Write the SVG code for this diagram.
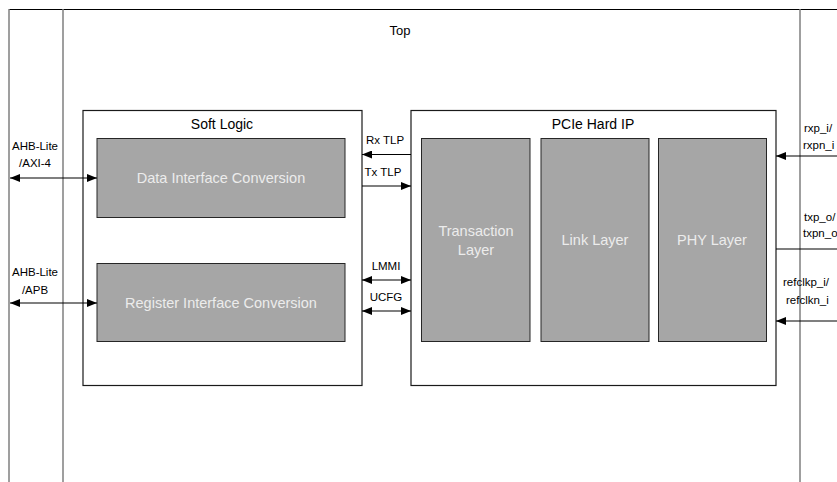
<svg xmlns="http://www.w3.org/2000/svg" width="837" height="482" viewBox="0 0 837 482">
<style>
text{font-family:"Liberation Sans",Arial,sans-serif;font-size:11.5px;fill:#000}
.w{fill:#ececec;font-size:14.5px}
.t{font-size:14px}
.tp{font-size:13px}
.box{fill:#fff;stroke:#1a1a1a;stroke-width:1.2}
.blk{fill:#a6a6a6;stroke:#262626;stroke-width:1}
.gl{stroke:#7f7f7f;stroke-width:1.5;fill:none}
.ln{stroke:#000;stroke-width:1.2;fill:none}
</style>
<defs>
<marker id="ah" viewBox="0 0 10 8" refX="10" refY="4" markerWidth="10" markerHeight="8" markerUnits="userSpaceOnUse" orient="auto-start-reverse">
<path d="M0,0 L10,4 L0,8 Z" fill="#000"/>
</marker>
</defs>
<g id="top">
<line x1="9" y1="9.5" x2="837" y2="9.5" stroke="#000" stroke-width="1.2"/>
<line class="gl" x1="9" y1="9" x2="9" y2="482"/>
<line class="gl" x1="63" y1="9" x2="63" y2="482"/>
<line class="gl" x1="800" y1="9" x2="800" y2="482"/>
<text class="tp" x="400" y="35" text-anchor="middle">Top</text>
</g>
<g id="soft-logic">
<rect class="box" x="83" y="110.5" width="279" height="275"/>
<text class="t" x="222" y="129" text-anchor="middle">Soft Logic</text>
</g>
<g id="data-if">
<rect class="blk" x="97" y="138.5" width="248" height="79"/>
<text class="w" x="221" y="183" text-anchor="middle">Data Interface Conversion</text>
</g>
<g id="reg-if">
<rect class="blk" x="97" y="263.5" width="248" height="78"/>
<text class="w" x="221" y="308" text-anchor="middle">Register Interface Conversion</text>
</g>
<g id="pcie">
<rect class="box" x="411" y="110.5" width="365" height="275"/>
<text class="t" x="593" y="129" text-anchor="middle">PCIe Hard IP</text>
</g>
<g id="transaction">
<rect class="blk" x="421.5" y="138.5" width="108.5" height="203"/>
<text class="w" x="476" y="236" text-anchor="middle">Transaction</text>
<text class="w" x="476" y="255" text-anchor="middle">Layer</text>
</g>
<g id="link">
<rect class="blk" x="541" y="138.5" width="108" height="203"/>
<text class="w" x="595" y="245" text-anchor="middle">Link Layer</text>
</g>
<g id="phy">
<rect class="blk" x="658.5" y="138.5" width="108" height="203"/>
<text class="w" x="712" y="245" text-anchor="middle">PHY Layer</text>
</g>
<g id="connectors">
<line class="ln" x1="10" y1="178" x2="97" y2="178" marker-start="url(#ah)" marker-end="url(#ah)"/>
<line class="ln" x1="10" y1="303" x2="97" y2="303" marker-start="url(#ah)" marker-end="url(#ah)"/>
<line class="ln" x1="411" y1="154.5" x2="362" y2="154.5" marker-end="url(#ah)"/>
<line class="ln" x1="362" y1="186" x2="411" y2="186" marker-end="url(#ah)"/>
<line class="ln" x1="362" y1="280" x2="411" y2="280" marker-start="url(#ah)" marker-end="url(#ah)"/>
<line class="ln" x1="362" y1="311" x2="411" y2="311" marker-start="url(#ah)" marker-end="url(#ah)"/>
<line class="ln" x1="837" y1="156" x2="776" y2="156" marker-end="url(#ah)"/>
<line class="ln" x1="776" y1="249" x2="837" y2="249"/>
<line class="ln" x1="837" y1="321" x2="776" y2="321" marker-end="url(#ah)"/>
</g>
<g id="labels">
<text x="35" y="150" text-anchor="middle">AHB-Lite</text>
<text x="35" y="167" text-anchor="middle">/AXI-4</text>
<text x="35" y="276" text-anchor="middle">AHB-Lite</text>
<text x="35" y="294" text-anchor="middle">/APB</text>
<text x="385" y="144" text-anchor="middle">Rx TLP</text>
<text x="383" y="176" text-anchor="middle">Tx TLP</text>
<text x="386" y="270" text-anchor="middle">LMMI</text>
<text x="386" y="301" text-anchor="middle">UCFG</text>
<text x="804" y="132">rxp_i/</text>
<text x="803" y="149">rxpn_i</text>
<text x="804" y="221">txp_o/</text>
<text x="803" y="237">txpn_o</text>
<text x="783" y="286">refclkp_i/</text>
<text x="786" y="304">refclkn_i</text>
</g>
</svg>
